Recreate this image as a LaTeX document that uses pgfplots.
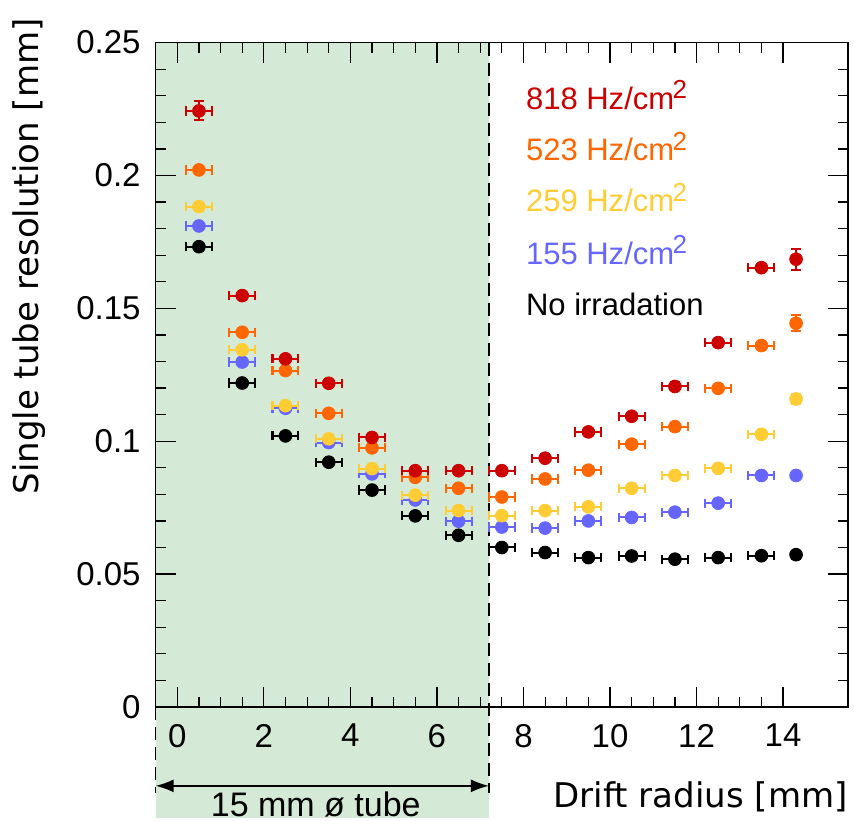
\documentclass[border=0pt]{standalone}
\usepackage{pgfplots}
\pgfplotsset{compat=1.18}
\usepackage{pgfplotstable}
\usepackage{fontspec}
\setmainfont{Liberation Sans}
\newfontfamily\dejavu{DejaVu Sans}
\usetikzlibrary{arrows.meta}

\definecolor{cred}{RGB}{204,0,0}
\definecolor{corange}{RGB}{255,102,0}
\definecolor{cyellow}{RGB}{255,204,51}
\definecolor{cblue}{RGB}{102,102,255}
\definecolor{tubegreen}{RGB}{213,234,214}

% x  y  ex  ey
\pgfplotstableread{
x y ex ey
0.5 0.2243 0.3 0.0036
1.5 0.1548 0.3 0.0015
2.5 0.1310 0.3 0.0015
3.5 0.1218 0.3 0.0015
4.5 0.1014 0.3 0.0015
5.5 0.0889 0.3 0.0015
6.5 0.0889 0.3 0.0015
7.5 0.0889 0.3 0.0015
8.5 0.0936 0.3 0.0015
9.5 0.1035 0.3 0.0015
10.5 0.1094 0.3 0.0015
11.5 0.1206 0.3 0.0015
12.5 0.1371 0.3 0.0015
13.5 0.1653 0.3 0.0015
14.3 0.1685 0.1 0.0040
}\redtab
\pgfplotstableread{
x y ex ey
0.5 0.2021 0.3 0.0015
1.5 0.1410 0.3 0.0015
2.5 0.1266 0.3 0.0015
3.5 0.1105 0.3 0.0015
4.5 0.0975 0.3 0.0015
5.5 0.0864 0.3 0.0015
6.5 0.0823 0.3 0.0015
7.5 0.0790 0.3 0.0015
8.5 0.0858 0.3 0.0015
9.5 0.0891 0.3 0.0015
10.5 0.0989 0.3 0.0015
11.5 0.1055 0.3 0.0015
12.5 0.1199 0.3 0.0015
13.5 0.1360 0.3 0.0015
14.3 0.1444 0.1 0.0030
}\orangetab
\pgfplotstableread{
x y ex ey
0.5 0.1883 0.3 0.0015
1.5 0.1344 0.3 0.0015
2.5 0.1134 0.3 0.0015
3.5 0.1009 0.3 0.0015
4.5 0.0897 0.3 0.0015
5.5 0.0797 0.3 0.0015
6.5 0.0739 0.3 0.0015
7.5 0.0720 0.3 0.0015
8.5 0.0739 0.3 0.0015
9.5 0.0753 0.3 0.0015
10.5 0.0823 0.3 0.0015
11.5 0.0871 0.3 0.0015
12.5 0.0898 0.3 0.0015
13.5 0.1026 0.3 0.0015
14.3 0.1159 0.1 0.0020
}\yellowtab
\pgfplotstableread{
x y ex ey
0.5 0.1810 0.3 0.0015
1.5 0.1298 0.3 0.0015
2.5 0.1124 0.3 0.0015
3.5 0.0995 0.3 0.0015
4.5 0.0877 0.3 0.0015
5.5 0.0779 0.3 0.0015
6.5 0.0699 0.3 0.0015
7.5 0.0677 0.3 0.0015
8.5 0.0673 0.3 0.0015
9.5 0.0700 0.3 0.0015
10.5 0.0713 0.3 0.0015
11.5 0.0733 0.3 0.0015
12.5 0.0767 0.3 0.0015
13.5 0.0871 0.3 0.0015
14.3 0.0871 0.1 0.0015
}\bluetab
\pgfplotstableread{
x y ex ey
0.5 0.1732 0.3 0.0015
1.5 0.1219 0.3 0.0015
2.5 0.1020 0.3 0.0015
3.5 0.0921 0.3 0.0015
4.5 0.0816 0.3 0.0015
5.5 0.0719 0.3 0.0015
6.5 0.0646 0.3 0.0015
7.5 0.0600 0.3 0.0015
8.5 0.0581 0.3 0.0015
9.5 0.0562 0.3 0.0015
10.5 0.0568 0.3 0.0015
11.5 0.0556 0.3 0.0015
12.5 0.0562 0.3 0.0015
13.5 0.0569 0.3 0.0015
14.3 0.0573 0.1 0.0015
}\blacktab

\pgfplotsset{
  ser/.style={only marks, mark=*, mark size=3.2pt, color=#1,
    mark options={fill=#1, draw=#1},
    error bars/.cd, x dir=both, x explicit, y dir=both, y explicit,
    error bar style={line width=1pt, #1},
    error mark options={rotate=90, mark size=2.3pt, line width=1pt, #1}},
}
\newcommand{\cmsq}{cm\kern-0.8pt\textsuperscript{\fontsize{13}{13}\selectfont 2}}

\begin{document}
\begin{tikzpicture}
\useasboundingbox (-77.8pt,-57pt) rectangle (349pt,353.3pt);
\begin{axis}[
  at={(0,0)}, anchor=south west,
  scale only axis, width=346pt, height=332pt,
  xmin=-0.5, xmax=15.5, ymin=0, ymax=0.25,
  axis on top, clip=false,
  xtick={0,2,...,14}, minor x tick num=3,
  ytick={0,0.05,0.1,0.15,0.2,0.25}, minor y tick num=4,
  tick align=inside, tick pos=both,
  major tick length=10pt, minor tick length=5pt,
  axis line style={line width=0.7pt},
  every tick/.style={line width=0.6pt, black},
  ticklabel style={font=\fontsize{16.5}{19}\selectfont},
  /pgf/number format/assume math mode=true,
  yticklabel style={/pgf/number format/fixed, /pgf/number format/precision=2},
  xticklabel shift=5pt, yticklabel shift=4pt,
]
\fill[tubegreen] (axis cs:-0.5,-0.0418) rectangle (axis cs:7.2,0.25);
\draw[dash pattern=on 6.5pt off 3.5pt, line width=0.8pt] (axis cs:7.2,0.25) -- (axis cs:7.2,-0.0325);
\draw[dash pattern=on 6.5pt off 3.5pt, line width=0.8pt] (axis cs:-0.5,0) -- (axis cs:-0.5,-0.0325);
\draw[{Latex[length=9pt,width=6.5pt]}-{Latex[length=9pt,width=6.5pt]}, line width=0.8pt]
  (axis cs:-0.5,-0.0297) -- (axis cs:7.2,-0.0297);
\node[inner sep=0pt, font=\fontsize{17}{20}\selectfont] at (axis cs:3.2,-0.0366) {15 mm ø tube};

\addplot[ser=black] table[x=x, y=y, x error=ex, y error=ey] {\blacktab};
\addplot[ser=cblue] table[x=x, y=y, x error=ex, y error=ey] {\bluetab};
\addplot[ser=cyellow] table[x=x, y=y, x error=ex, y error=ey] {\yellowtab};
\addplot[ser=corange] table[x=x, y=y, x error=ex, y error=ey] {\orangetab};
\addplot[ser=cred] table[x=x, y=y, x error=ex, y error=ey] {\redtab};

\begin{scope}[every node/.style={anchor=west, inner sep=0pt, font=\fontsize{15.5}{18}\selectfont}]
\node[text=cred] at (axis cs:8.05,0.2303) {818 Hz/\cmsq};
\node[text=corange] at (axis cs:8.05,0.2109) {523 Hz/\cmsq};
\node[text=cyellow] at (axis cs:8.05,0.1916) {259 Hz/\cmsq};
\node[text=cblue] at (axis cs:8.05,0.1720) {155 Hz/\cmsq};
\node[text=black] at (axis cs:8.05,0.1513) {No irradation};
\end{scope}

\node[anchor=east, inner sep=0pt, font=\dejavu\fontsize{17}{20}\selectfont]
  at (axis cs:15.5,-0.0337) {Drift radius [mm]};
\node[rotate=90, anchor=east, inner sep=0pt, font=\dejavu\fontsize{17}{20}\selectfont]
  at (axis cs:-3.43,0.2593) {Single tube resolution [mm]};
\end{axis}
\end{tikzpicture}
\end{document}
